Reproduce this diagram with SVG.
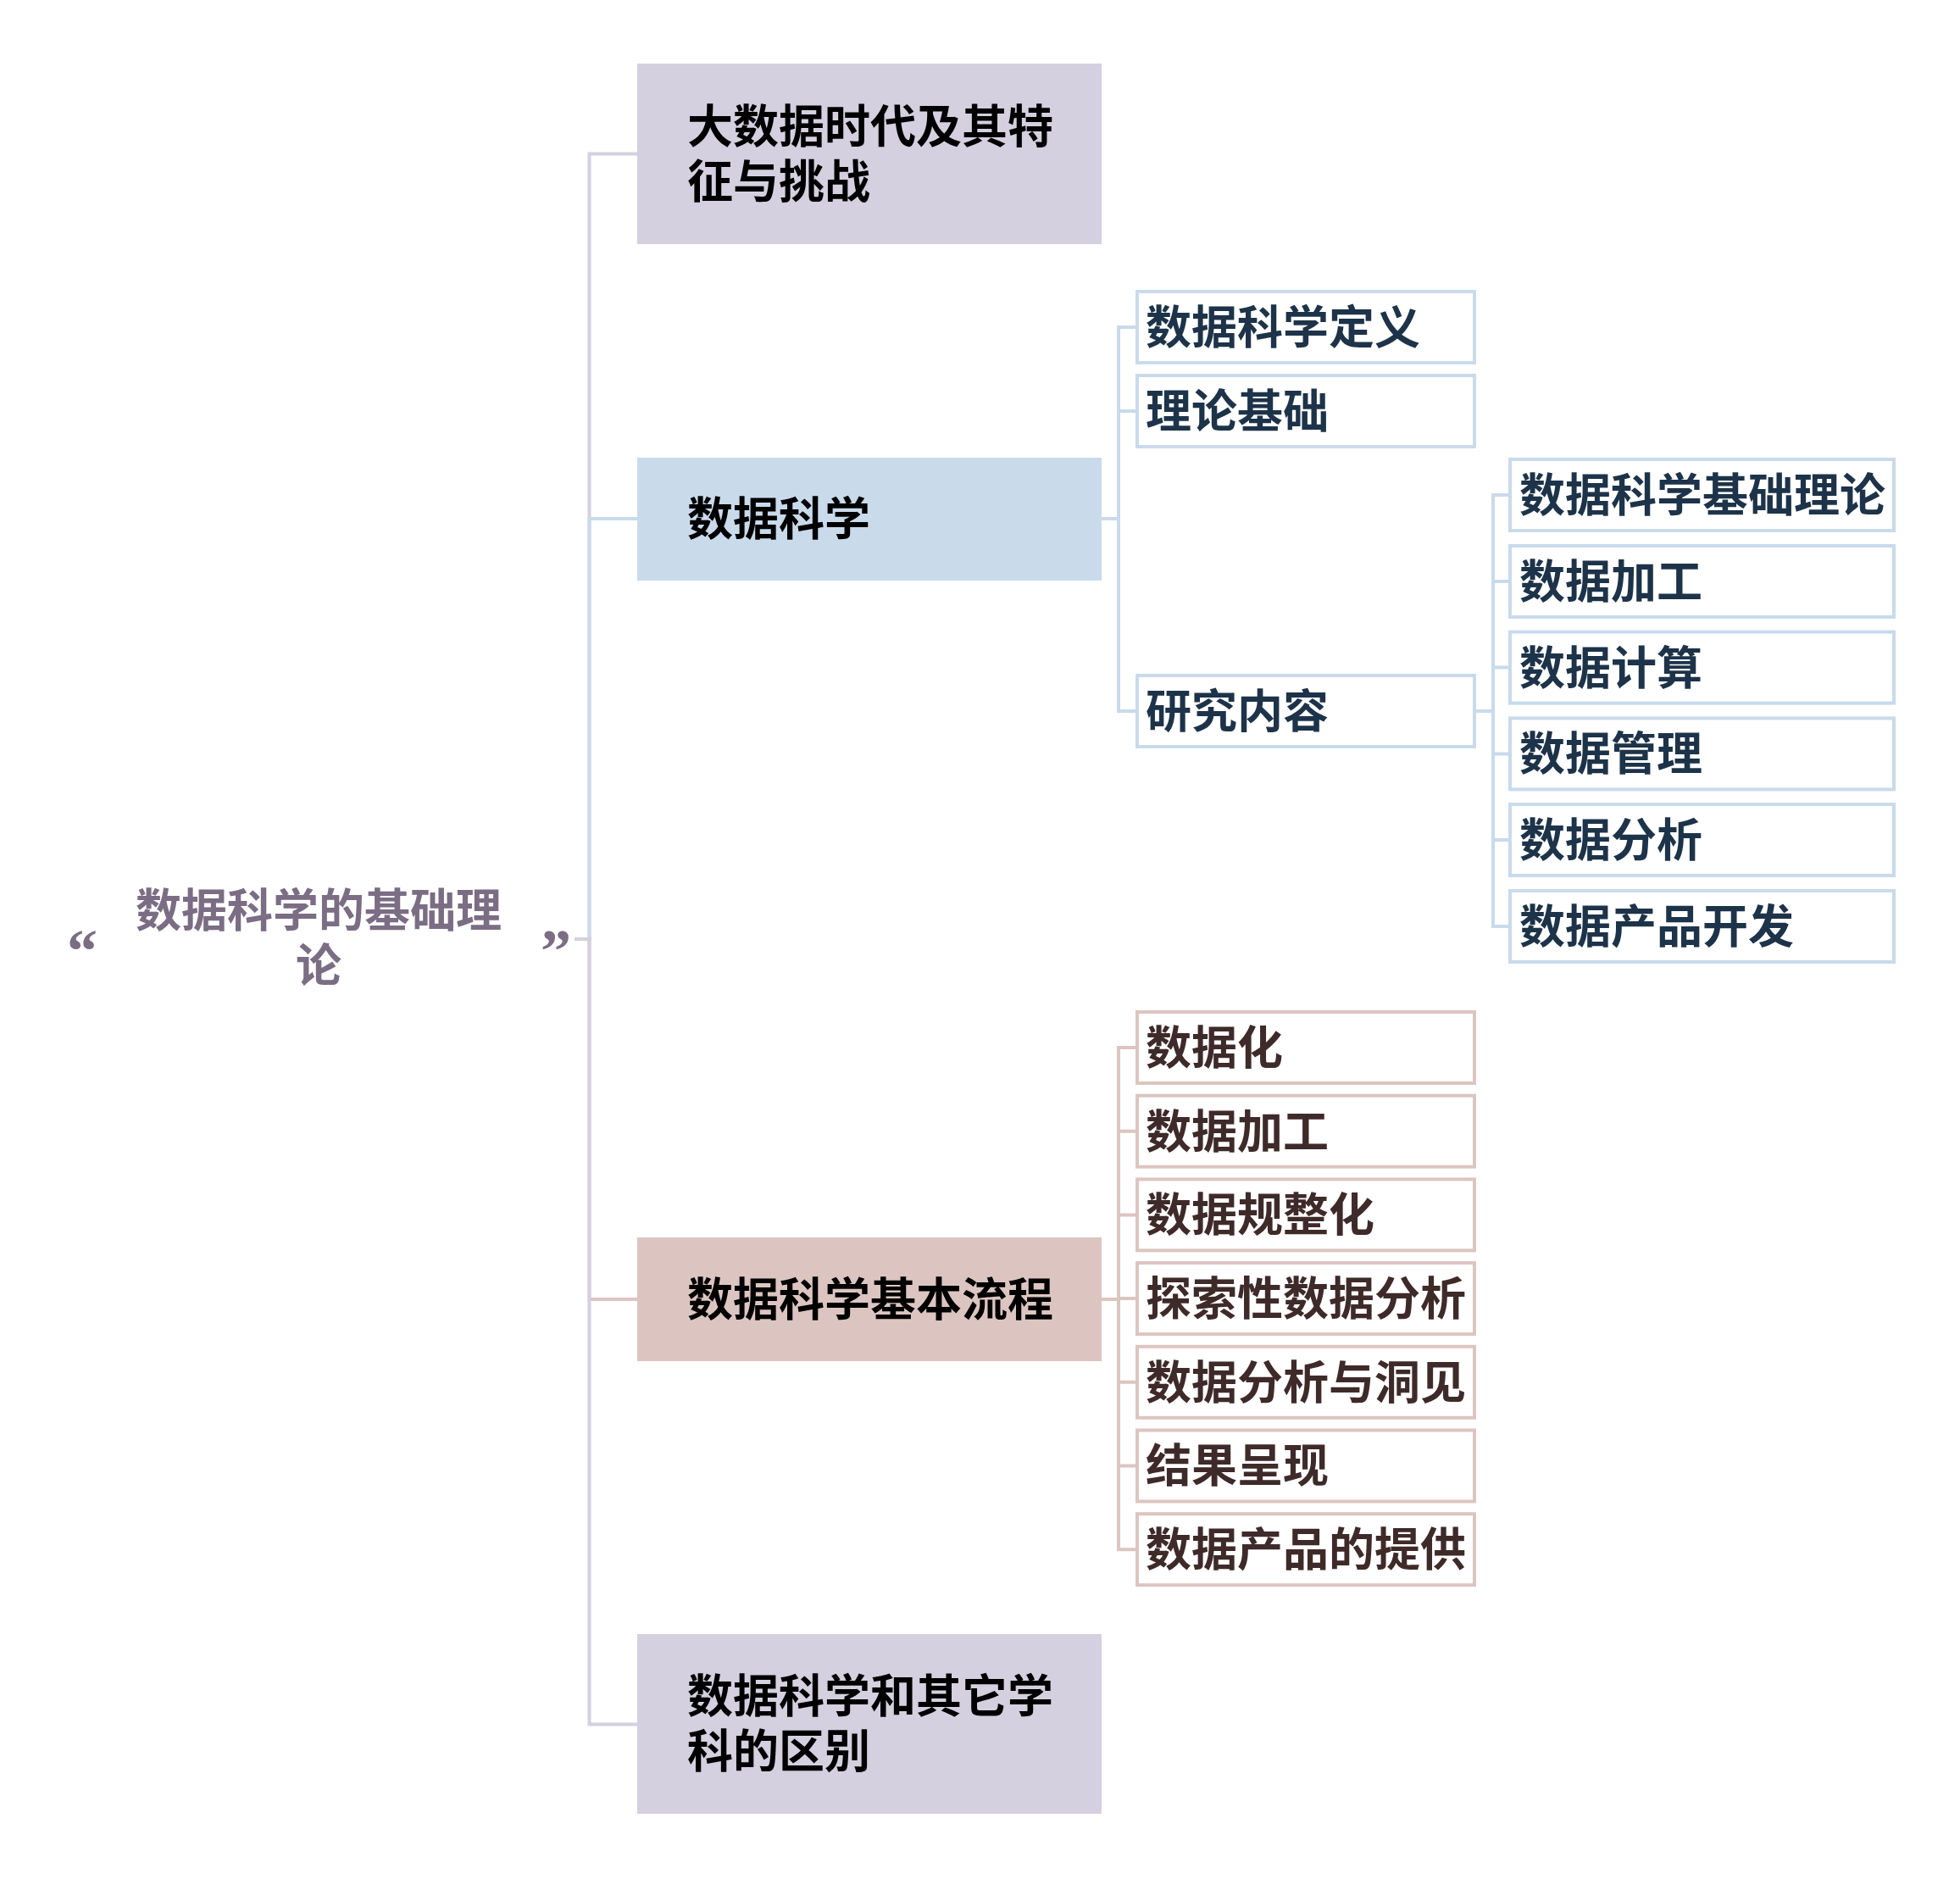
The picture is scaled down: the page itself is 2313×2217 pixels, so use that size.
<svg xmlns="http://www.w3.org/2000/svg" width="2313" height="2217" viewBox="0 0 2313 2217">
<style>
text{font-family:"Noto Sans CJK SC","Noto Sans",sans-serif;font-weight:700;font-size:54px}
.root{fill:#7b6d84}
.quote{font-family:"Liberation Serif",serif;font-size:72px;fill:#7b6d84;text-anchor:middle}
.l1{fill:#000}
.bt{fill:#1d3349}
.pt{fill:#3f2a2a}
.lav{fill:#d4d0df}
.blu{fill:#c9daeb}
.pnk{fill:#dcc5c1}
.bb{fill:#fff;stroke:#c9daeb;stroke-width:4}
.pb{fill:#fff;stroke:#dcc5c1;stroke-width:4}
.c{fill:none;stroke-width:4}
.cl{stroke:#d4d0df}
.cb{stroke:#c9daeb}
.cp{stroke:#dcc5c1}
</style>
<rect width="2313" height="2217" fill="#fff"/>
<g id="connectors">
<path class="c cl" d="M678 1108 H695.5 V181.5 H752"/>
<path class="c cb" d="M678 1108 H695.5 V612 H752"/>
<path class="c cp" d="M678 1108 H695.5 V1533 H752"/>
<path class="c cl" d="M678 1108 H695.5 V2034.5 H752"/>
<path class="c cb" d="M1300 612 H1320 V386 H1342"/>
<path class="c cb" d="M1300 612 H1320 V485 H1342"/>
<path class="c cb" d="M1300 612 H1320 V839 H1342"/>
<path class="c cb" d="M1740 839 H1762 V584 H1782"/>
<path class="c cb" d="M1740 839 H1762 V686 H1782"/>
<path class="c cb" d="M1740 839 H1762 V787.6 H1782"/>
<path class="c cb" d="M1740 839 H1762 V889.4 H1782"/>
<path class="c cb" d="M1740 839 H1762 V991 H1782"/>
<path class="c cb" d="M1740 839 H1762 V1093 H1782"/>
<path class="c cp" d="M1300 1533 H1320 V1236 H1342"/>
<path class="c cp" d="M1300 1533 H1320 V1334.7 H1342"/>
<path class="c cp" d="M1300 1533 H1320 V1433.4 H1342"/>
<path class="c cp" d="M1300 1533 H1320 V1532.1 H1342"/>
<path class="c cp" d="M1300 1533 H1320 V1630.8 H1342"/>
<path class="c cp" d="M1300 1533 H1320 V1729.5 H1342"/>
<path class="c cp" d="M1300 1533 H1320 V1828.2 H1342"/>
</g>
<g id="root">
<text class="quote" x="97" y="1146">“</text>
<text class="quote" x="656" y="1146">”</text>
<text class="root" text-anchor="middle"><tspan x="376" y="1094">数据科学的基础理</tspan><tspan x="376" y="1159">论</tspan></text>
</g>
<g id="n-bigdata">
<rect class="lav" x="752" y="75" width="548" height="213"/>
<text class="l1"><tspan x="811" y="169">大数据时代及其特</tspan><tspan x="811" y="234">征与挑战</tspan></text>
</g>
<g id="n-ds">
<rect class="blu" x="752" y="540" width="548" height="145"/>
<text class="l1" x="811" y="632">数据科学</text>
</g>
<g id="n-process">
<rect class="pnk" x="752" y="1460" width="548" height="146"/>
<text class="l1" x="811" y="1553">数据科学基本流程</text>
</g>
<g id="n-diff">
<rect class="lav" x="752" y="1928" width="548" height="212"/>
<text class="l1"><tspan x="811" y="2021">数据科学和其它学</tspan><tspan x="811" y="2086">科的区别</tspan></text>
</g>
<g id="n-def"><rect class="bb" x="1342" y="344" width="398" height="84"/><text class="bt" x="1352" y="406">数据科学定义</text></g>
<g id="n-theory"><rect class="bb" x="1342" y="443" width="398" height="84"/><text class="bt" x="1352" y="505">理论基础</text></g>
<g id="n-research"><rect class="bb" x="1342" y="797" width="398" height="84"/><text class="bt" x="1352" y="859">研究内容</text></g>
<g id="n-r1"><rect class="bb" x="1782" y="542" width="453" height="84"/><text class="bt" x="1793" y="604">数据科学基础理论</text></g>
<g id="n-r2"><rect class="bb" x="1782" y="644" width="453" height="84"/><text class="bt" x="1793" y="706">数据加工</text></g>
<g id="n-r3"><rect class="bb" x="1782" y="745.6" width="453" height="84"/><text class="bt" x="1793" y="808">数据计算</text></g>
<g id="n-r4"><rect class="bb" x="1782" y="847.4" width="453" height="84"/><text class="bt" x="1793" y="909">数据管理</text></g>
<g id="n-r5"><rect class="bb" x="1782" y="949" width="453" height="84"/><text class="bt" x="1793" y="1011">数据分析</text></g>
<g id="n-r6"><rect class="bb" x="1782" y="1051" width="453" height="84"/><text class="bt" x="1793" y="1113">数据产品开发</text></g>
<g id="n-p1"><rect class="pb" x="1342" y="1194" width="398" height="84"/><text class="pt" x="1352" y="1256">数据化</text></g>
<g id="n-p2"><rect class="pb" x="1342" y="1292.7" width="398" height="84"/><text class="pt" x="1352" y="1355">数据加工</text></g>
<g id="n-p3"><rect class="pb" x="1342" y="1391.4" width="398" height="84"/><text class="pt" x="1352" y="1453">数据规整化</text></g>
<g id="n-p4"><rect class="pb" x="1342" y="1490.1" width="398" height="84"/><text class="pt" x="1352" y="1552">探索性数据分析</text></g>
<g id="n-p5"><rect class="pb" x="1342" y="1588.8" width="398" height="84"/><text class="pt" x="1352" y="1651">数据分析与洞见</text></g>
<g id="n-p6"><rect class="pb" x="1342" y="1687.5" width="398" height="84"/><text class="pt" x="1352" y="1749">结果呈现</text></g>
<g id="n-p7"><rect class="pb" x="1342" y="1786.2" width="398" height="84"/><text class="pt" x="1352" y="1848">数据产品的提供</text></g>
</svg>
